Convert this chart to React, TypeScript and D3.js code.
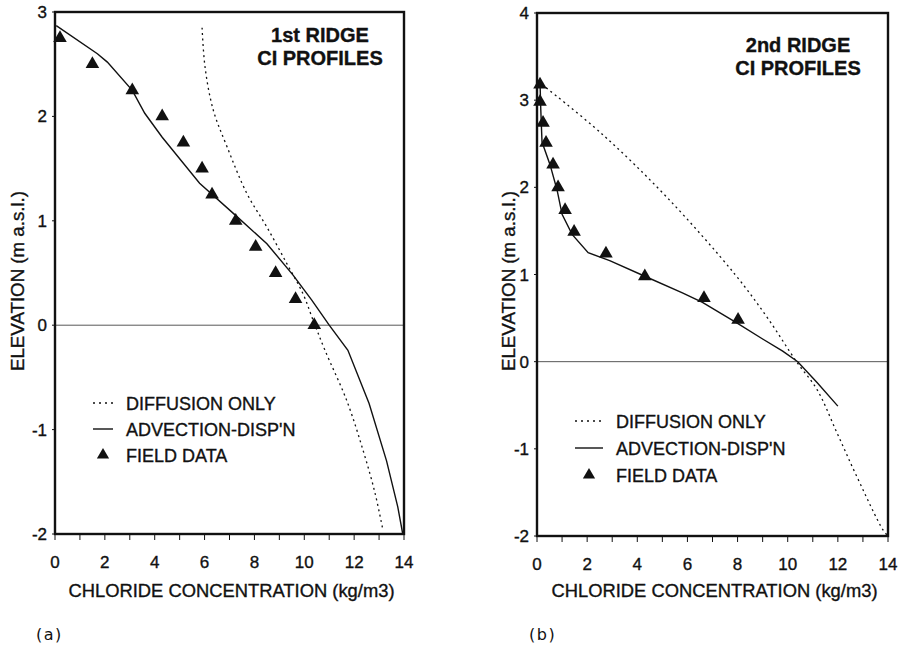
import React from "react";
import * as d3 from "d3";

// panel (a) - 1st ridge
const field1Conc = [0.2, 1.5, 3.1, 4.3, 5.15, 5.9, 6.3, 7.25, 8.05, 8.85, 9.65, 10.4];
const field1Elev = [2.75, 2.5, 2.25, 2.0, 1.75, 1.5, 1.25, 1.0, 0.75, 0.5, 0.25, 0.0];
const adv1Conc = [0.05, 1.7, 2.1, 3.1, 3.6, 4.3, 5.8, 7.3, 8.5, 9.55, 10.3, 11.0, 11.75, 12.6, 13.3, 13.75, 13.95];
const adv1Elev = [2.87, 2.6, 2.52, 2.25, 2.03, 1.8, 1.36, 1.04, 0.78, 0.48, 0.24, 0, -0.24, -0.75, -1.3, -1.74, -2.0];
const dif1Conc = [5.9, 6.02, 6.35, 6.9, 7.7, 8.5, 9.3, 9.95, 10.35, 10.83, 11.7, 12.36, 12.84, 13.16];
const dif1Elev = [2.85, 2.47, 2.06, 1.71, 1.26, 0.94, 0.59, 0.3, 0.05, -0.24, -0.72, -1.2, -1.61, -1.97];

// panel (b) - 2nd ridge
const field2Conc = [0.12, 0.12, 0.24, 0.36, 0.64, 0.84, 1.12, 1.48, 2.75, 4.3, 6.66, 8.02];
const field2Elev = [3.18, 2.98, 2.74, 2.51, 2.26, 2.0, 1.74, 1.49, 1.24, 0.98, 0.73, 0.48];
const adv2Conc = [0.12, 0.15, 0.2, 0.52, 0.8, 1.0, 1.4, 2.04, 2.9, 4.3, 5.8, 6.6, 8.0, 9.0, 9.8, 10.4, 11.17, 12.0];
const adv2Elev = [3.21, 2.9, 2.52, 2.26, 1.97, 1.69, 1.46, 1.25, 1.16, 0.98, 0.79, 0.68, 0.44, 0.26, 0.12, 0.0, -0.24, -0.51];
const dif2Conc = [0.2, 2.6, 5.2, 7.9, 9.2, 10.35, 11.17, 11.97, 12.76, 13.8, 14.0];
const dif2Elev = [3.18, 2.61, 1.88, 1.0, 0.5, 0.0, -0.32, -0.82, -1.32, -1.93, -2.0];

const xTickLabels = [0, 2, 4, 6, 8, 10, 12, 14];
const legendLabels = ["DIFFUSION ONLY", "ADVECTION-DISP'N", "FIELD DATA"];

const font = "'Liberation Sans', Arial, Helvetica, sans-serif";
const ink = "#111";

type PanelProps = {
  x0: number; x1: number; y0: number; y1: number;
  yMax: number;
  title: string[]; titleX: number; titleY: number;
  legendX: number; legendY: number; legendLen: number; legendGap: number;
  yLabelX: number; xLabelY: number; tag: string; tagX: number;
  fc: number[]; fe: number[]; ac: number[]; ae: number[]; dc: number[]; de: number[];
};

const Panel = (p: PanelProps) => {
  const x = d3.scaleLinear().domain([0, 14]).range([p.x0, p.x1]);
  const y = d3.scaleLinear().domain([-2, p.yMax]).range([p.y1, p.y0]);
  const yTicks = d3.range(-2, p.yMax + 1);
  const xMinor = d3.range(0, 15);
  const line = (cs: number[], es: number[], curve: d3.CurveFactory) =>
    d3.line<number>().x((c) => x(c)).y((_, i) => y(es[i])).curve(curve)(cs) || "";
  const tri = d3.symbol().type(d3.symbolTriangle).size(80)() || "";
  const triSmall = d3.symbol().type(d3.symbolTriangle).size(65)() || "";
  const lx = p.legendX;
  const rows = legendLabels.map((_, i) => p.legendY + i * p.legendGap);
  const heavy = { stroke: ink, strokeWidth: 0.35 };

  return (
    <g fontFamily={font} fill={ink}>
      {/* zero line */}
      <line x1={x(0)} x2={x(14)} y1={y(0)} y2={y(0)} stroke="#444" strokeWidth={0.9} />
      {/* curves */}
      <path d={line(p.dc, p.de, d3.curveCatmullRom)} fill="none" stroke={ink} strokeWidth={1.3} strokeDasharray="2,3.5" />
      <path d={line(p.ac, p.ae, d3.curveLinear)} fill="none" stroke={ink} strokeWidth={1.4} />
      {p.fc.map((c, i) => (
        <path key={i} d={tri} transform={`translate(${x(c)},${y(p.fe[i])})`} fill={ink} />
      ))}
      {/* frame */}
      <rect x={p.x0} y={p.y0} width={p.x1 - p.x0} height={p.y1 - p.y0} fill="none" stroke={ink} strokeWidth={2.4} />
      {/* x ticks */}
      {xMinor.map((t) => (
        <line key={t} x1={x(t)} x2={x(t)} y1={p.y1} y2={p.y1 + 6} stroke={ink} strokeWidth={1} />
      ))}
      {xTickLabels.map((t) => (
        <text key={t} x={x(t)} y={p.y1 + 34} fontSize={17} textAnchor="middle" {...heavy}>{t}</text>
      ))}
      {/* y ticks */}
      {yTicks.map((t) => (
        <g key={t}>
          <line x1={p.x0 - 3} x2={p.x0} y1={y(t)} y2={y(t)} stroke={ink} strokeWidth={1} />
          <text x={p.x0 - 8} y={y(t) + 6} fontSize={17} textAnchor="end" {...heavy}>{t}</text>
        </g>
      ))}
      {/* axis titles */}
      <text x={(p.x0 + p.x1) / 2 + 2} y={p.xLabelY} fontSize={18} textAnchor="middle" textLength={326} lengthAdjust="spacingAndGlyphs" {...heavy}>
        CHLORIDE CONCENTRATION (kg/m3)
      </text>
      <text transform={`translate(${p.yLabelX},281) rotate(-90)`} fontSize={18} textAnchor="middle" textLength={180} lengthAdjust="spacingAndGlyphs" {...heavy}>
        ELEVATION (m a.s.l.)
      </text>
      {/* panel title */}
      {p.title.map((t, i) => (
        <text key={t} x={p.titleX} y={p.titleY + i * 23} fontSize={20} fontWeight="bold" textAnchor="middle" {...heavy}>{t}</text>
      ))}
      {/* legend */}
      <line x1={lx} x2={lx + p.legendLen} y1={rows[0]} y2={rows[0]} stroke={ink} strokeWidth={1.3} strokeDasharray="2,4" />
      <line x1={lx} x2={lx + p.legendLen} y1={rows[1]} y2={rows[1]} stroke={ink} strokeWidth={1.4} />
      <path d={triSmall} transform={`translate(${lx + p.legendLen / 2},${rows[2]})`} fill={ink} />
      {legendLabels.map((l, i) => (
        <text key={l} x={lx + p.legendLen + 13} y={rows[i] + 7} fontSize={18} {...heavy}>{l}</text>
      ))}
      <text x={p.tagX} y={640} fontSize={16} fontFamily="'DejaVu Sans', sans-serif" letterSpacing={1.5}>{p.tag}</text>
    </g>
  );
};

const App = () => (
  <svg width={898} height={648} style={{ position: "absolute", left: 0, top: 0, background: "#fff" }}>
    <rect width={898} height={648} fill="#fff" />
    <Panel
      x0={55} x1={404} y0={12} y1={534} yMax={3}
      title={["1st RIDGE", "CI PROFILES"]} titleX={320} titleY={42}
      legendX={93} legendY={403} legendLen={20} legendGap={26}
      yLabelX={24} xLabelY={597} tag="(a)" tagX={36}
      fc={field1Conc} fe={field1Elev} ac={adv1Conc} ae={adv1Elev} dc={dif1Conc} de={dif1Elev}
    />
    <Panel
      x0={537} x1={888} y0={13} y1={536} yMax={4}
      title={["2nd RIDGE", "CI PROFILES"]} titleX={798} titleY={52}
      legendX={575} legendY={421} legendLen={28} legendGap={27}
      yLabelX={515} xLabelY={597} tag="(b)" tagX={529}
      fc={field2Conc} fe={field2Elev} ac={adv2Conc} ae={adv2Elev} dc={dif2Conc} de={dif2Elev}
    />
  </svg>
);

export default App;
